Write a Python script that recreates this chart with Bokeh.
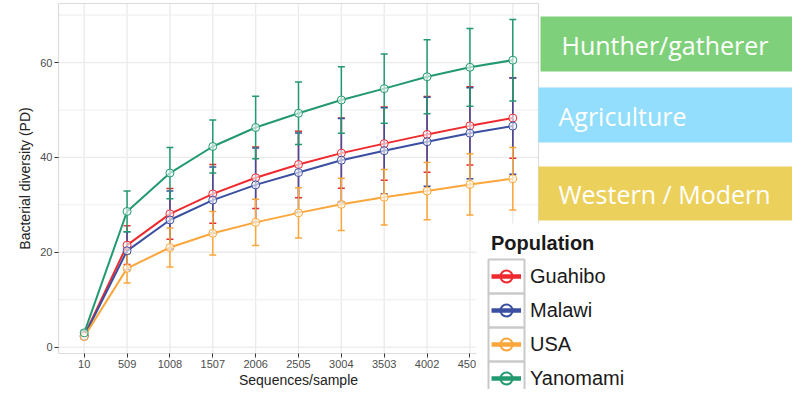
from bokeh.plotting import figure
from bokeh.models import (ColumnDataSource, FixedTicker, NumeralTickFormatter, Range1d,
                          BoxAnnotation, Label, Legend, LegendItem)
from bokeh.embed import file_html
from bokeh.resources import INLINE

# ---------------- data ----------------
depth = [10, 509, 1008, 1507, 2006, 2505, 3004, 3503, 4002, 4501, 5000]
populations = ["Guahibo", "Malawi", "USA", "Yanomami"]

guahibo_mean = [2.4, 21.5, 28.1, 32.3, 35.7, 38.5, 40.9, 42.9, 44.85, 46.65, 48.3]
guahibo_sd = [0.5, 4.1, 5.35, 6.2, 6.5, 7.0, 7.4, 7.7, 8.0, 8.25, 8.5]
malawi_mean = [2.3, 20.3, 26.8, 31.0, 34.2, 36.8, 39.4, 41.4, 43.3, 45.1, 46.6]
malawi_sd = [0.5, 4.0, 6.1, 7.0, 7.8, 8.35, 8.8, 9.05, 9.4, 9.6, 10.15]
usa_mean = [2.2, 16.6, 21.0, 24.0, 26.3, 28.3, 30.1, 31.6, 32.9, 34.3, 35.5]
usa_sd = [0.4, 3.1, 4.1, 4.6, 4.9, 5.3, 5.5, 5.85, 6.05, 6.45, 6.6]
yanomami_mean = [3.0, 28.6, 36.7, 42.3, 46.3, 49.3, 52.1, 54.5, 57.0, 59.0, 60.5]
yanomami_sd = [0.5, 4.3, 5.4, 5.6, 6.6, 6.6, 7.0, 7.3, 7.8, 8.2, 8.6]

y_ticks = [0, 20, 40, 60]
y_minor = [10, 30, 50, 70]

box_labels = ["Hunther/gatherer", "Agriculture", "Western / Modern"]

# ---------------- styles / layout ----------------
colors = ["#EE2A2F", "#3B4FA2", "#FBA63A", "#22996E"]
box_colors = ["#7ED17A", "#92DEFC", "#ECD05C"]
means = [guahibo_mean, malawi_mean, usa_mean, yanomami_mean]
sds = [guahibo_sd, malawi_sd, usa_sd, yanomami_sd]
FONT = "Liberation Sans"

W, H = 792, 389
PX0, PX1 = 58, 538      # panel left / right (pixels)
PY0, PY1 = 3, 353       # panel top / bottom (pixels from top)
step = depth[1] - depth[0]
xlo, xhi = depth[0] - 0.6 * step, depth[-1] + 0.6 * step
ylo, yhi = -1.35, 72.45
ux = (xhi - xlo) / (PX1 - PX0)
uy = (yhi - ylo) / (PY1 - PY0)
x_start, x_end = xlo - PX0 * ux, xhi + (W - PX1) * ux
y_start, y_end = ylo - (H - PY1) * uy, yhi + PY0 * uy

p = figure(width=W, height=H, output_backend="svg", toolbar_location=None,
           x_range=Range1d(x_start, x_end), y_range=Range1d(y_start, y_end),
           min_border=0)
p.title.visible = False
p.background_fill_color = "white"
p.border_fill_color = "white"
p.outline_line_color = None
p.xgrid.grid_line_color = None
p.ygrid.grid_line_color = None


def sy(py):
    return H - py


def dx(px):
    return x_start + px * ux


def dy(py):
    return y_end - py * uy


# grid lines (manual so they stay inside the panel)
vgrid = ColumnDataSource(dict(x=depth, y0=[ylo] * len(depth), y1=[yhi] * len(depth)))
p.segment(x0="x", y0="y0", x1="x", y1="y1", source=vgrid, line_color="#EBEBEB", line_width=1.3)
hminor = ColumnDataSource(dict(y=y_minor, x0=[xlo] * len(y_minor), x1=[xhi] * len(y_minor)))
p.segment(x0="x0", y0="y", x1="x1", y1="y", source=hminor, line_color="#F0F0F0", line_width=1.1)
hmajor = ColumnDataSource(dict(y=y_ticks, x0=[xlo] * len(y_ticks), x1=[xhi] * len(y_ticks)))
p.segment(x0="x0", y0="y", x1="x1", y1="y", source=hmajor, line_color="#EBEBEB", line_width=1.3)

# axes drawn at the panel edges
p.xaxis.ticker = FixedTicker(ticks=depth)
p.yaxis.ticker = FixedTicker(ticks=y_ticks)
p.xaxis.formatter = NumeralTickFormatter(format="0")
p.xaxis.fixed_location = ylo
p.yaxis.fixed_location = xlo
p.xaxis.bounds = (xlo, xhi)
p.yaxis.bounds = (ylo, yhi)
for ax in (p.xaxis, p.yaxis):
    ax.axis_line_color = None
    ax.major_tick_line_color = "#333333"
    ax.major_tick_out = 4
    ax.major_tick_in = 0
    ax.minor_tick_line_color = None
    ax.major_label_text_font = FONT
    ax.major_label_text_font_size = "11px"
    ax.major_label_text_color = "#4D4D4D"
    ax.major_label_standoff = 2
    ax.axis_label_text_font = FONT
    ax.axis_label_text_font_size = "14px"
    ax.axis_label_text_font_style = "normal"
    ax.axis_label_text_color = "#222222"
p.xaxis.axis_label = "Sequences/sample"
p.yaxis.axis_label = "Bacterial diversity (PD)"
p.xaxis.axis_label_standoff = 1
p.yaxis.axis_label_standoff = 4

sources = []
for m, s in zip(means, sds):
    sources.append(ColumnDataSource(dict(
        x=depth, y=m,
        upper=[a + b for a, b in zip(m, s)],
        lower=[a - b for a, b in zip(m, s)])))

# error bars
for src, c in zip(sources, colors):
    p.segment(x0="x", y0="lower", x1="x", y1="upper", source=src, line_color=c, line_width=1.5)
    p.scatter(x="x", y="upper", source=src, marker="dash", size=7, line_color=c, line_width=1.5)
    p.scatter(x="x", y="lower", source=src, marker="dash", size=7, line_color=c, line_width=1.5)
# lines
for src, c in zip(sources, colors):
    p.line(x="x", y="y", source=src, line_color=c, line_width=2)
# points
for src, c in zip(sources, colors):
    p.scatter(x="x", y="y", source=src, marker="circle", size=8, fill_color="white",
              fill_alpha=0.6, line_color=c, line_width=1)

# panel border
p.add_layout(BoxAnnotation(left=xlo, right=xhi, bottom=ylo, top=yhi,
                           fill_alpha=0, line_color="#8A8A8A", line_width=1.2))

# ---------------- coloured category boxes ----------------
# (left px, top px, bottom px, text x px, text centre y px)
box_geo = [(540, 16, 71, 561, 44), (538, 87, 142, 558, 115), (538, 166, 220, 558, 193)]
for (lft, top, bot, tx, ty), bc, txt in zip(box_geo, box_colors, box_labels):
    p.add_layout(BoxAnnotation(left=lft, right=W + 10, top=sy(top), bottom=sy(bot),
                               left_units="screen", right_units="screen",
                               top_units="screen", bottom_units="screen",
                               fill_color=bc, fill_alpha=1, line_color=None))
    p.add_layout(Label(x=tx, y=sy(ty), x_units="screen", y_units="screen", text=txt,
                       text_font="Open Sans", text_font_size="25px", text_color="white",
                       text_baseline="middle", text_align="left"))

# white area behind the legend
p.add_layout(BoxAnnotation(left=476, right=W + 10, top=sy(223), bottom=-20,
                           left_units="screen", right_units="screen",
                           top_units="screen", bottom_units="screen",
                           fill_color="white", fill_alpha=1, line_color=None))

ROW = 34
ROW0 = 259

nan = float("nan")
items = []
for pop, c in zip(populations, colors):
    lr = p.line(x=[nan], y=[nan], line_color=c, line_width=4.5)
    cr = p.scatter(x=[nan], y=[nan], marker="circle", size=15, fill_color=None,
                   line_color=c, line_width=2)
    items.append(LegendItem(label=pop, renderers=[lr, cr]))

legend = Legend(items=items, location=(491, sy(ROW0 + 4 * ROW)), title="Population",
                title_text_font=FONT, title_text_font_size="20px",
                title_text_font_style="bold", title_text_color="#1a1a1a",
                title_standoff=4,
                label_text_font=FONT, label_text_font_size="20px",
                label_text_color="#1a1a1a",
                glyph_width=30, glyph_height=ROW, label_height=ROW,
                label_standoff=9, spacing=0, padding=0, margin=0,
                border_line_color=None, background_fill_alpha=0)
p.add_layout(legend)

# legend key frames, drawn on the overlay level
key_src = ColumnDataSource(dict(
    x=[dx(506)] * 4,
    y=[dy(ROW0 + ROW * i + ROW / 2) for i in range(4)]))
p.rect(x="x", y="y", width=36, height=ROW, width_units="screen", height_units="screen",
       source=key_src, fill_color=None, line_color="#C9C9C9", line_width=2, level="overlay")

open("out.html", "w").write(file_html(p, INLINE))
